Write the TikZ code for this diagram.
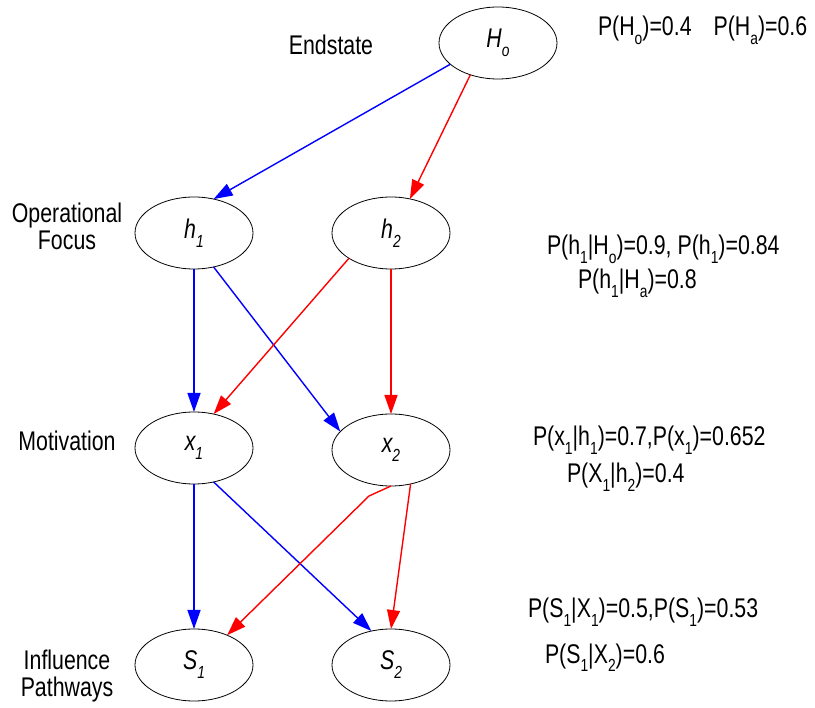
\documentclass[tikz,border=0pt]{standalone}
\usepackage{fontspec}
\setmainfont{Liberation Sans}[FakeStretch=0.79]
\usetikzlibrary{arrows.meta,shapes.geometric}

\newcommand{\subidx}[1]{\raisebox{-9pt}{\fontsize{17.5}{17.5}\selectfont #1}}

\tikzset{
    state/.style={ellipse, draw, line width=0.8pt, minimum width=118pt, minimum height=72pt,
        inner sep=0pt, outer sep=0pt, font=\fontsize{27}{30}\selectfont\itshape},
    txt/.style={inner sep=0pt, outer sep=0pt, font=\fontsize{27}{27}\selectfont},
    blueline/.style={draw=blue, line width=1.4pt, -{Triangle[length=19pt,width=13pt]}},
    redline/.style={draw=red, line width=1.4pt, -{Triangle[length=19pt,width=13pt]}}
}

\begin{document}
\begin{tikzpicture}[x=1pt,y=-1pt]
    \useasboundingbox (0,0) rectangle (815,708);

    % states
    \node[state] (Ho) at (498,43) {H\subidx{o}};
    \node[state] (h1) at (194,233) {h\subidx{1}};
    \node[state] (h2) at (391,233) {h\subidx{2}};
    \node[state] (x1) at (194,448) {x\subidx{1}};
    \node[state] (x2) at (391,450) {x\subidx{2}};
    \node[state] (s1) at (194,665) {S\subidx{1}};
    \node[state] (s2) at (391,665) {S\subidx{2}};

    % levels
    \node[txt, anchor=base] (endstate) at (331,55) {Endstate};
    \node[txt, anchor=north, align=center] (opfocus) at (67,203) {Operational\\Focus};
    \node[txt, anchor=base] (motiv) at (67,451) {Motivation};
    \node[txt, anchor=north, align=center] (influence) at (67,650) {Influence\\Pathways};

    % probabilities
    \node[txt, anchor=base west] (pHo) at (598,36) {P(H\subidx{o})=0.4\hspace{22pt}P(H\subidx{a})=0.6};
    \node[txt, anchor=base west] (ph1) at (547,255) {P(h\subidx{1}|H\subidx{o})=0.9, P(h\subidx{1})=0.84};
    \node[txt, anchor=base west] (ph1a) at (578,289) {P(h\subidx{1}|H\subidx{a})=0.8};
    \node[txt, anchor=base west] (px1) at (533,446) {P(x\subidx{1}|h\subidx{1})=0.7,P(x\subidx{1})=0.652};
    \node[txt, anchor=base west] (px1b) at (567,483) {P(X\subidx{1}|h\subidx{2})=0.4};
    \node[txt, anchor=base west] (ps1) at (528,618) {P(S\subidx{1}|X\subidx{1})=0.5,P(S\subidx{1})=0.53};
    \node[txt, anchor=base west] (ps1b) at (545,663) {P(S\subidx{1}|X\subidx{2})=0.6};

    % endstate -> focus
    \draw[blueline] (Ho.204.6) -- (h1.60);
    \draw[redline] (Ho.229.5) -- (h2.61);

    % focus -> motivation
    \draw[blueline] (h1.south) -- (x1.north);
    \draw[blueline] (h1.300) -- (x2.160);
    \draw[redline] (h2.211) -- (x1.60);
    \draw[redline] (h2.south) -- (x2.north);

    % motivation -> pathways
    \draw[blueline] (x1.south) -- (s1.north);
    \draw[blueline] (x1.300) -- (s2.120);
    \coordinate (kink) at (369,496);
    \draw[redline] (x2.south) -- (kink) -- (s1.42);
    \draw[redline] (x2.300) -- (s2.north);
\end{tikzpicture}
\end{document}
